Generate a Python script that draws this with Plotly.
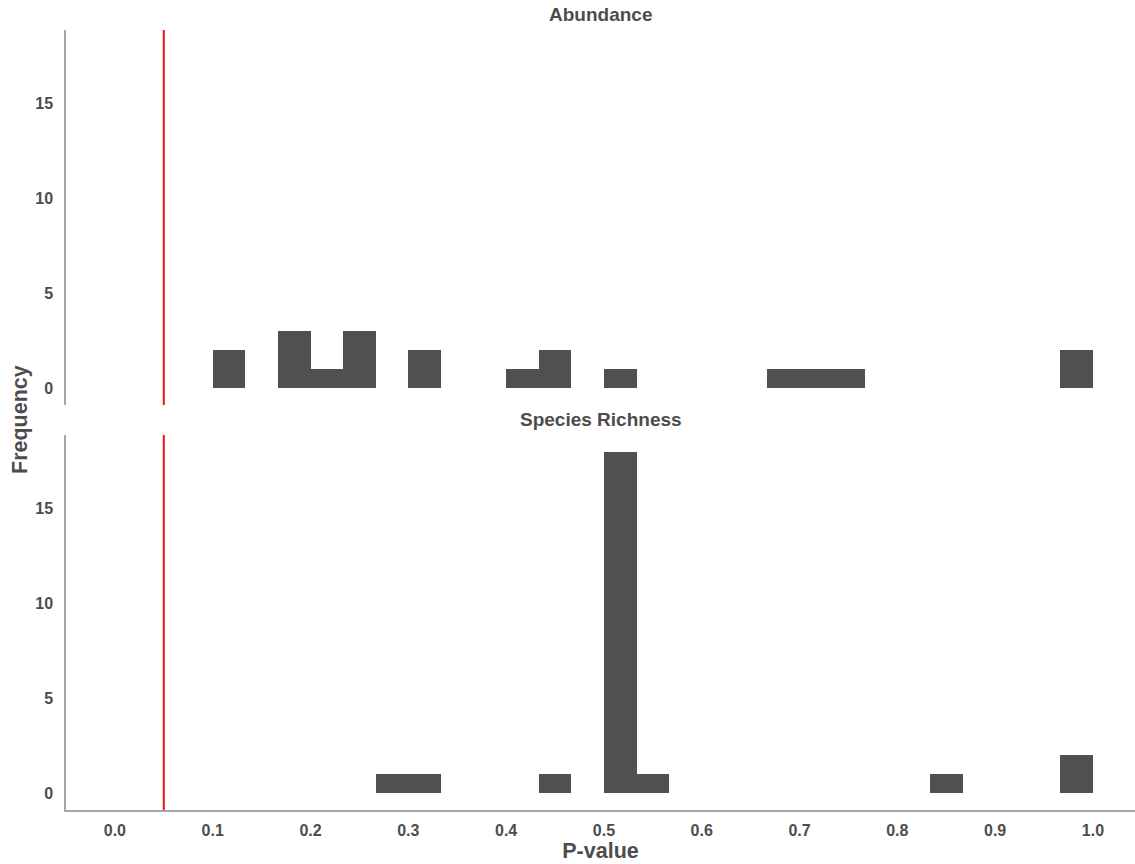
import plotly.graph_objects as go

# 30 bins of width 1/30 between 0 and 1
n_bins = 30
bin_width = 1.0 / n_bins
bin_index = list(range(n_bins))

abundance_counts = [0, 0, 0, 2, 0, 3, 1, 3, 0, 2,
                    0, 0, 1, 2, 0, 1, 0, 0, 0, 0,
                    1, 1, 1, 0, 0, 0, 0, 0, 0, 2]
richness_counts = [0, 0, 0, 0, 0, 0, 0, 0, 1, 1,
                   0, 0, 0, 1, 0, 18, 1, 0, 0, 0,
                   0, 0, 0, 0, 0, 1, 0, 0, 0, 2]

panel_titles = ["Abundance", "Species Richness"]
threshold = 0.05
x_ticks = [0.0, 0.1, 0.2, 0.3, 0.4, 0.5, 0.6, 0.7, 0.8, 0.9, 1.0]
y_ticks = [0, 5, 10, 15]

font_family = "Liberation Sans, Arial, sans-serif"
text_color = "#4d4d4d"
bar_color = "#505050"
axis_color = "#a6a6a6"

fig = go.Figure()
for counts, xa, ya in [(abundance_counts, "x", "y"), (richness_counts, "x2", "y2")]:
    xs = [(i + 0.5) * bin_width for i in bin_index if counts[i] > 0]
    ys = [counts[i] for i in bin_index if counts[i] > 0]
    fig.add_trace(go.Bar(
        x=xs, y=ys, width=bin_width,
        marker=dict(color=bar_color, line=dict(width=0)),
        xaxis=xa, yaxis=ya, showlegend=False, hoverinfo="skip",
    ))

top_dom = [0.5192, 1.0]
bot_dom = [0.0, 0.4808]

tickfont = dict(family=font_family, size=16, color=text_color, weight="bold")
xcommon = dict(range=[-0.05, 1.043], showgrid=False, zeroline=False,
               tickvals=x_ticks, ticktext=[f"{v:.1f}" for v in x_ticks],
               tickfont=tickfont, ticks="")
ycommon = dict(range=[-0.9, 18.9], showgrid=False, zeroline=False,
               tickvals=y_ticks, tickfont=tickfont, ticks="",
               showline=True, linecolor=axis_color, linewidth=1.5, ticklabelstandoff=8)

fig.update_layout(
    width=1135, height=864,
    margin=dict(l=66, r=0, t=30, b=54),
    paper_bgcolor="white", plot_bgcolor="white",
    bargap=0,
    xaxis=dict(**xcommon, domain=[0, 1], anchor="y", showticklabels=False, showline=False,
               matches="x2"),
    yaxis=dict(**ycommon, domain=top_dom, anchor="x"),
    xaxis2=dict(**xcommon, domain=[0, 1], anchor="y2", showline=True,
                linecolor=axis_color, linewidth=1.5, ticklabelstandoff=5,
                title=dict(text="P-value", font=dict(family=font_family, size=21.5,
                                                      color=text_color, weight="bold"),
                           standoff=0)),
    yaxis2=dict(**ycommon, domain=bot_dom, anchor="x2"),
    shapes=[
        dict(type="line", xref="x", yref="y domain", x0=threshold, x1=threshold,
             y0=0, y1=1, line=dict(color="#ee1111", width=2)),
        dict(type="line", xref="x2", yref="y2 domain", x0=threshold, x1=threshold,
             y0=0, y1=1, line=dict(color="#ee1111", width=2)),
    ],
    annotations=[
        dict(text=panel_titles[0], xref="paper", yref="paper", x=0.5, y=top_dom[1],
             yanchor="bottom", yshift=3, showarrow=False,
             font=dict(family=font_family, size=19, color=text_color, weight="bold")),
        dict(text=panel_titles[1], xref="paper", yref="paper", x=0.5, y=bot_dom[1],
             yanchor="bottom", yshift=3, showarrow=False,
             font=dict(family=font_family, size=19, color=text_color, weight="bold")),
        dict(text="Frequency", xref="paper", yref="paper", x=0, y=0.5,
             xanchor="center", yanchor="middle",
             xshift=-46, textangle=-90, showarrow=False,
             font=dict(family=font_family, size=21.5, color=text_color, weight="bold")),
    ],
)

fig.write_html("out.html", config={"displayModeBar": False},
               post_script="document.body.style.margin='0';")
